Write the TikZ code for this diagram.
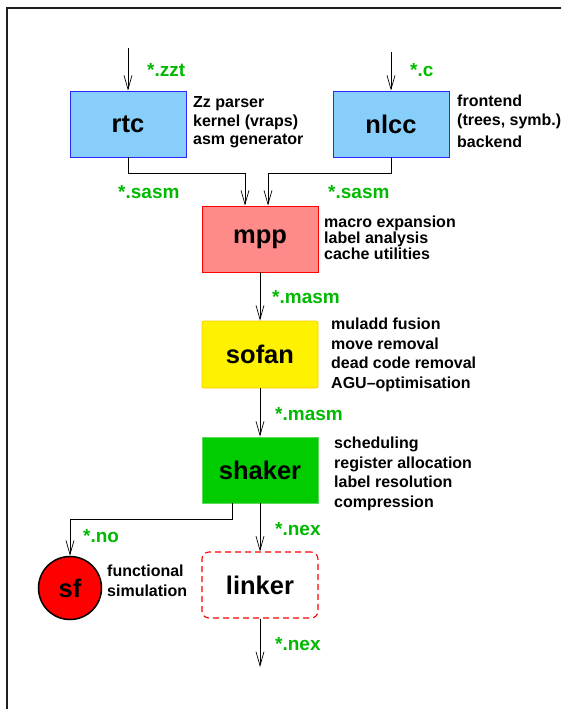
\documentclass[tikz,border=0pt]{standalone}
\usepackage{fontspec}
\setmainfont{Liberation Sans}
\usetikzlibrary{arrows.meta}
\definecolor{lblgreen}{RGB}{0,185,0}
\definecolor{bluefill}{RGB}{135,206,250}
\definecolor{blueline}{RGB}{40,40,255}
\definecolor{pinkfill}{RGB}{255,138,138}
\definecolor{yellowline}{RGB}{255,200,0}
\definecolor{greenfill}{RGB}{0,204,0}
\definecolor{greenline}{RGB}{90,220,90}
\definecolor{framecol}{RGB}{30,30,30}
\begin{document}
\begin{tikzpicture}[x=1pt,y=-1pt,
  box/.style={draw, line width=0.8pt, minimum width=116pt, minimum height=66pt, inner sep=0pt,
    font=\fontsize{25.5}{28}\selectfont\bfseries},
  side/.style={anchor=base west, inner sep=0pt, font=\fontsize{16}{19}\selectfont\bfseries},
  ext/.style={anchor=base west, inner sep=0pt, text=lblgreen, font=\fontsize{19}{22}\selectfont\bfseries},
  arr/.style={-{Straight Barb[length=14pt,width=8pt]}, line width=0.7pt},
  ]
\useasboundingbox (0,0) rectangle (560,709);
% frame (extends beyond the page on right and bottom)
\draw[framecol, line width=1.3pt] (7,712) -- (7,8) -- (563,8);

% process nodes
\node[box, fill=bluefill, draw=blueline] (rtc) at (128,124) {rtc};
\node[box, fill=bluefill, draw=blueline] (nlcc) at (391,124) {nlcc};
\node[box, fill=pinkfill, draw=red] (mpp) at (260,239) {mpp};
\node[box, fill=yellow, draw=yellowline, rounded corners=2pt, minimum height=67pt] (sofan) at (260,354.5) {sofan};
\node[box, fill=greenfill, draw=greenline] (shaker) at (260,470) {shaker};
\node[box, draw=red, line width=1.1pt, dash pattern=on 6pt off 4pt, rounded corners=7pt] (linker) at (260,585) {linker};
\node[circle, draw=black, line width=1.5pt, fill=red, minimum size=63pt, inner sep=0pt,
  font=\fontsize{25.5}{28}\selectfont\bfseries] (sf) at (70,588) {sf};

% free ends
\coordinate (rtcin) at (128,48);
\coordinate (nlccin) at (391,52);
\coordinate (out) at (260,667);

% connectors
\draw[arr] (rtcin) -- (rtc.north);
\draw[arr] (nlccin) -- (nlcc.north);
\draw[arr] (rtc.south) -- ++(0,16) -| ([xshift=-15pt]mpp.north);
\draw[arr] (nlcc.south) -- ++(0,16) -| ([xshift=8pt]mpp.north);
\draw[arr] (mpp.south) -- (sofan.north);
\draw[arr] (sofan.south) -- (shaker.north);
\draw[arr] (shaker.south) -- (linker.north);
\draw[arr] ([xshift=-28pt]shaker.south) -- ++(0,16) -| (sf.north);
\draw[arr] (linker.south) -- (out);

% file extension labels
\node[ext] (l-zzt) at (147,77) {*.zzt};
\node[ext] (l-c) at (410,77) {*.c};
\node[ext] (l-sasm1) at (118,198) {*.sasm};
\node[ext] (l-sasm2) at (328,198) {*.sasm};
\node[ext] (l-masm1) at (272,303) {*.masm};
\node[ext] (l-masm2) at (275,420) {*.masm};
\node[ext] (l-no) at (83,542) {*.no};
\node[ext] (l-nex1) at (275,535) {*.nex};
\node[ext] (l-nex2) at (275,650) {*.nex};

% side descriptions
\node[side] (rtc-d1) at (193,107) {Zz parser};
\node[side] (rtc-d2) at (193,126) {kernel (vraps)};
\node[side] (rtc-d3) at (193,144) {asm generator};
\node[side] (nlcc-d1) at (457,106) {frontend};
\node[side] (nlcc-d2) at (457,125) {(trees, symb.)};
\node[side] (nlcc-d3) at (457,147) {backend};
\node[side] (mpp-d1) at (324,227) {macro expansion};
\node[side] (mpp-d2) at (324,243) {label analysis};
\node[side] (mpp-d3) at (324,259) {cache utilities};
\node[side] (sofan-d1) at (331,329) {muladd fusion};
\node[side] (sofan-d2) at (331,349) {move removal};
\node[side] (sofan-d3) at (331,368) {dead code removal};
\node[side] (sofan-d4) at (331,388) {AGU–optimisation};
\node[side] (shaker-d1) at (334,448) {scheduling};
\node[side] (shaker-d2) at (334,468) {register allocation};
\node[side] (shaker-d3) at (334,487) {label resolution};
\node[side] (shaker-d4) at (334,507) {compression};
\node[side] (sf-d1) at (107,576) {functional};
\node[side] (sf-d2) at (107,596) {simulation};
\end{tikzpicture}
\end{document}
